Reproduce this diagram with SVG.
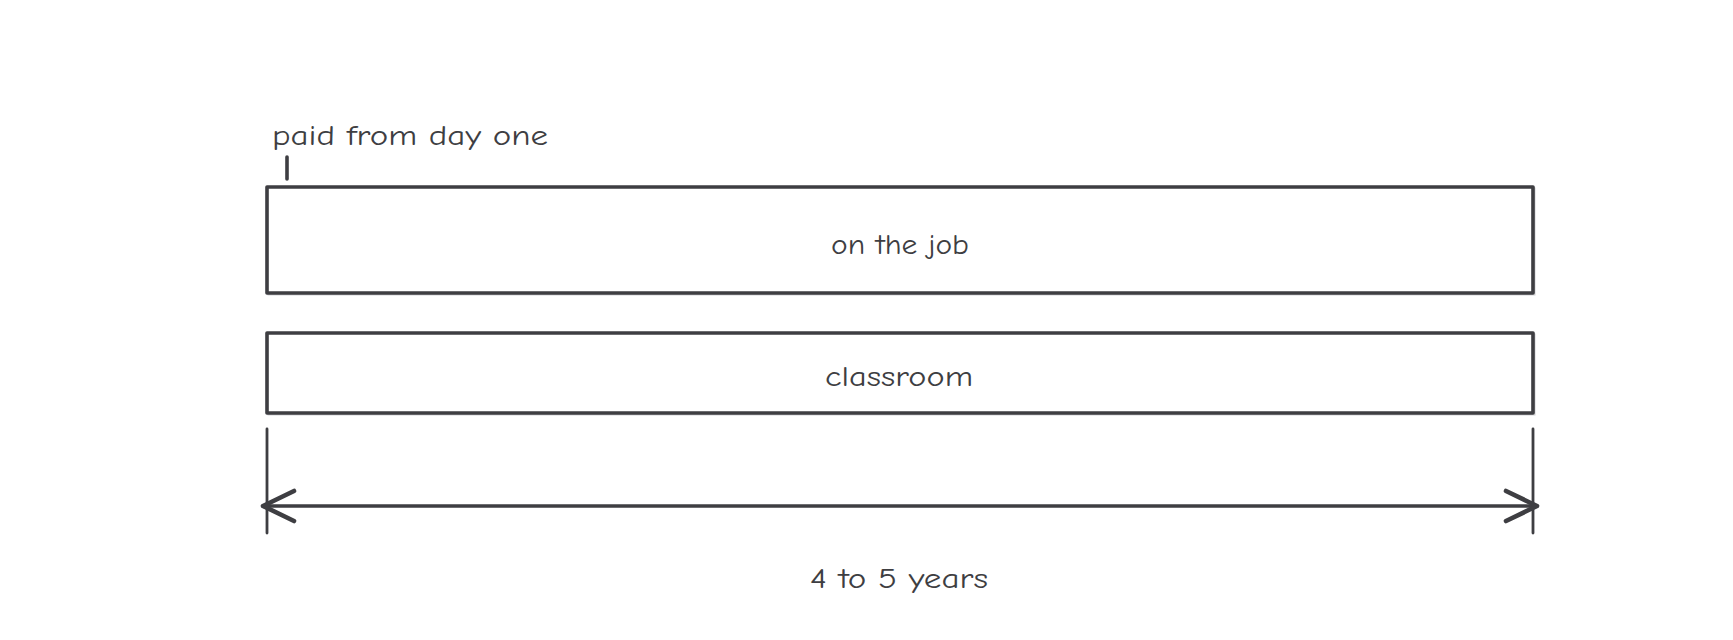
<svg xmlns="http://www.w3.org/2000/svg" width="1733" height="640" viewBox="0 0 1733 640">
<style>
.box{fill:#ffffff;stroke:#3e3e42;stroke-width:3.6;stroke-linejoin:round}
.shadow{fill:none;stroke:#d2d2d5;stroke-width:2}
.line{fill:none;stroke:#3e3e42;stroke-width:3.6;stroke-linecap:round;stroke-linejoin:round}
.head{fill:none;stroke:#3e3e42;stroke-width:4.6;stroke-linecap:round;stroke-linejoin:round}
.thin{fill:none;stroke:#3e3e42;stroke-width:2.8;stroke-linecap:round}
text{font-family:"Comic Neue","Liberation Sans","DejaVu Sans",sans-serif;font-size:29px;fill:#3e3e42}
</style>
<rect width="1733" height="640" fill="#ffffff"/>
<g id="on-the-job">
<rect class="shadow" x="268.5" y="188.5" width="1266" height="106"/>
<rect class="box" x="267" y="187" width="1266" height="106"/>
<text x="900" y="254" text-anchor="middle" textLength="138" lengthAdjust="spacingAndGlyphs">on the job</text>
</g>
<g id="classroom">
<rect class="shadow" x="268.5" y="334.5" width="1266" height="80"/>
<rect class="box" x="267" y="333" width="1266" height="80"/>
<text x="899" y="386" text-anchor="middle" textLength="148" lengthAdjust="spacingAndGlyphs">classroom</text>
</g>
<g id="paid-label">
<text x="272" y="145" textLength="276" lengthAdjust="spacingAndGlyphs">paid from day one</text>
</g>
<g id="duration-label">
<text x="899" y="588" text-anchor="middle" textLength="178" lengthAdjust="spacingAndGlyphs">4 to 5 years</text>
</g>
<g id="connectors">
<line class="line" x1="287" y1="157" x2="287" y2="179"/>
<line class="thin" x1="267" y1="429" x2="267" y2="533"/>
<line class="thin" x1="1533" y1="429" x2="1533" y2="533"/>
<line class="line" x1="263" y1="506" x2="1537" y2="506"/>
<polyline class="head" points="294,491 263,506 294,521"/>
<polyline class="head" points="1506,491 1537,506 1506,521"/>
</g>
</svg>
